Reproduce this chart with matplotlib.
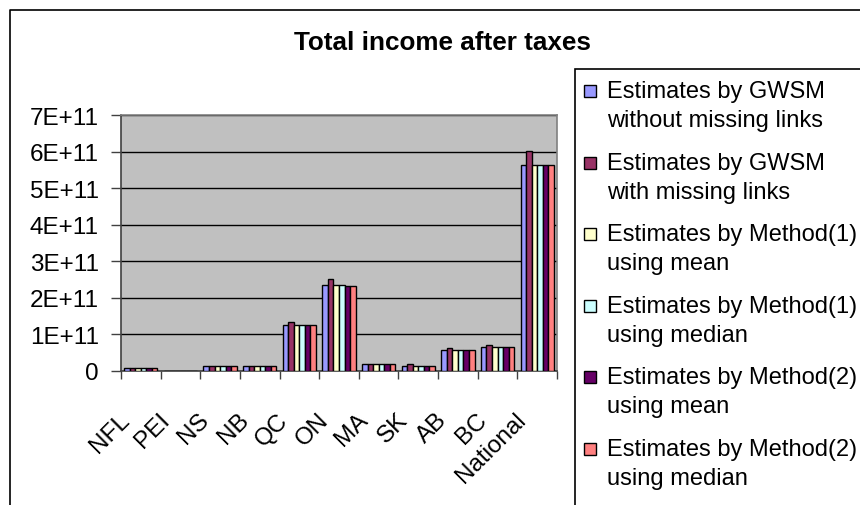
import matplotlib
matplotlib.use("Agg")
import matplotlib.pyplot as plt
import numpy as np
from matplotlib.patches import Rectangle
from matplotlib.lines import Line2D
from matplotlib.ticker import FixedLocator, FuncFormatter
from matplotlib.transforms import ScaledTranslation

plt.rcParams['font.family'] = ['Liberation Sans', 'DejaVu Sans']

categories = ["NFL", "PEI", "NS", "NB", "QC", "ON", "MA", "SK", "AB", "BC", "National"]
series_labels = [
    ("Estimates by GWSM", "without missing links"),
    ("Estimates by GWSM", "with missing links"),
    ("Estimates by Method(1)", "using mean"),
    ("Estimates by Method(1)", "using median"),
    ("Estimates by Method(2)", "using mean"),
    ("Estimates by Method(2)", "using median"),
]
gwsm_without = [7.5e9, 0, 1.5e10, 1.45e10, 1.26e11, 2.36e11, 1.8e10, 1.37e10, 5.75e10, 6.65e10, 5.62e11]
gwsm_with    = [7.5e9, 0, 1.5e10, 1.45e10, 1.35e11, 2.52e11, 1.8e10, 1.8e10, 6.3e10, 7.1e10, 6.02e11]
m1_mean      = [7.5e9, 0, 1.5e10, 1.45e10, 1.26e11, 2.36e11, 1.8e10, 1.37e10, 5.75e10, 6.65e10, 5.62e11]
m1_median    = [7.5e9, 0, 1.5e10, 1.45e10, 1.26e11, 2.36e11, 1.8e10, 1.37e10, 5.75e10, 6.65e10, 5.62e11]
m2_mean      = [7.5e9, 0, 1.5e10, 1.45e10, 1.26e11, 2.32e11, 1.8e10, 1.37e10, 5.75e10, 6.65e10, 5.62e11]
m2_median    = [7.5e9, 0, 1.5e10, 1.45e10, 1.26e11, 2.32e11, 1.8e10, 1.37e10, 5.75e10, 6.65e10, 5.62e11]
series = [gwsm_without, gwsm_with, m1_mean, m1_median, m2_mean, m2_median]
colors = ['#9999FF', '#993366', '#FFFFCC', '#CCFFFF', '#660066', '#FF8080']
yticks = [0, 1e11, 2e11, 3e11, 4e11, 5e11, 6e11, 7e11]
title = "Total income after taxes"

W, H = 860, 506
fig = plt.figure(figsize=(W / 100, H / 100), dpi=100)

def fx(px):
    return px / W

def fy(py):
    return 1 - py / H

# plot area in pixels
L, R, T, B = 121, 557, 116, 372
ax = fig.add_axes([fx(L), fy(B), fx(R) - fx(L), fy(T) - fy(B)])
ax.set_facecolor('#C0C0C0')

n = len(series)
w = 0.14
x = np.arange(len(categories))
for i, (vals, c) in enumerate(zip(series, colors)):
    ax.bar(x + (i - (n - 1) / 2) * w, vals, width=w, color=c,
           edgecolor='black', linewidth=1.0, zorder=3)

ax.set_xlim(-0.5, len(categories) - 0.5)
ax.set_ylim(0, 7e11)
ax.yaxis.set_major_locator(FixedLocator(yticks))
ax.yaxis.set_major_formatter(FuncFormatter(lambda v, p: "0" if v == 0 else f"{int(round(v / 1e11))}E+11"))
ax.grid(axis='y', color='black', linewidth=1.0, zorder=1)
ax.set_axisbelow(True)

ax.set_xticks(x)
ax.set_xticklabels(categories, rotation=45, ha='right', va='top', rotation_mode='anchor')
ax.set_xticks(np.arange(-0.5, len(categories)), minor=True)
ax.tick_params(axis='x', which='major', length=0, pad=27, labelsize=17.5)
ax.tick_params(axis='x', which='minor', length=6, width=1, direction='out', color='#404040')
ax.tick_params(axis='y', length=7, width=1, direction='out', color='#404040', pad=9, labelsize=17.5)
shift = ScaledTranslation(-22 / 100, 0, fig.dpi_scale_trans)
for lab in ax.get_xticklabels():
    lab.set_transform(lab.get_transform() + shift)

for s in ['left', 'bottom']:
    ax.spines[s].set_color('#404040')
    ax.spines[s].set_linewidth(1.2)
for s in ['top', 'right']:
    ax.spines[s].set_color('#808080')
    ax.spines[s].set_linewidth(1.2)

# title
fig.text(fx(443), fy(43), title, ha='center', va='center', fontsize=18.8, fontweight='bold')

# outer chart frame (left and top edges visible)
fig.add_artist(Line2D([fx(10), fx(10), fx(W + 5)], [fy(H + 5), fy(11), fy(11)],
                      color='black', linewidth=1.2, transform=fig.transFigure))

# legend box
fig.add_artist(Rectangle((fx(575), fy(H + 5)), fx(W + 10) - fx(575), fy(70) - fy(H + 5),
                         transform=fig.transFigure, facecolor='white', edgecolor='black',
                         linewidth=1.2))
y0, pitch, lsp = 92, 71.6, 29
for i, ((l1, l2), c) in enumerate(zip(series_labels, colors)):
    yc = y0 + i * pitch
    fig.add_artist(Rectangle((fx(584), fy(yc + 6)), fx(12), 12 / H,
                             transform=fig.transFigure, facecolor=c, edgecolor='black',
                             linewidth=1.0))
    fig.text(fx(607), fy(yc), l1, ha='left', va='center', fontsize=17)
    fig.text(fx(607), fy(yc + lsp), l2, ha='left', va='center', fontsize=17)

fig.savefig("out.png", dpi=100)
